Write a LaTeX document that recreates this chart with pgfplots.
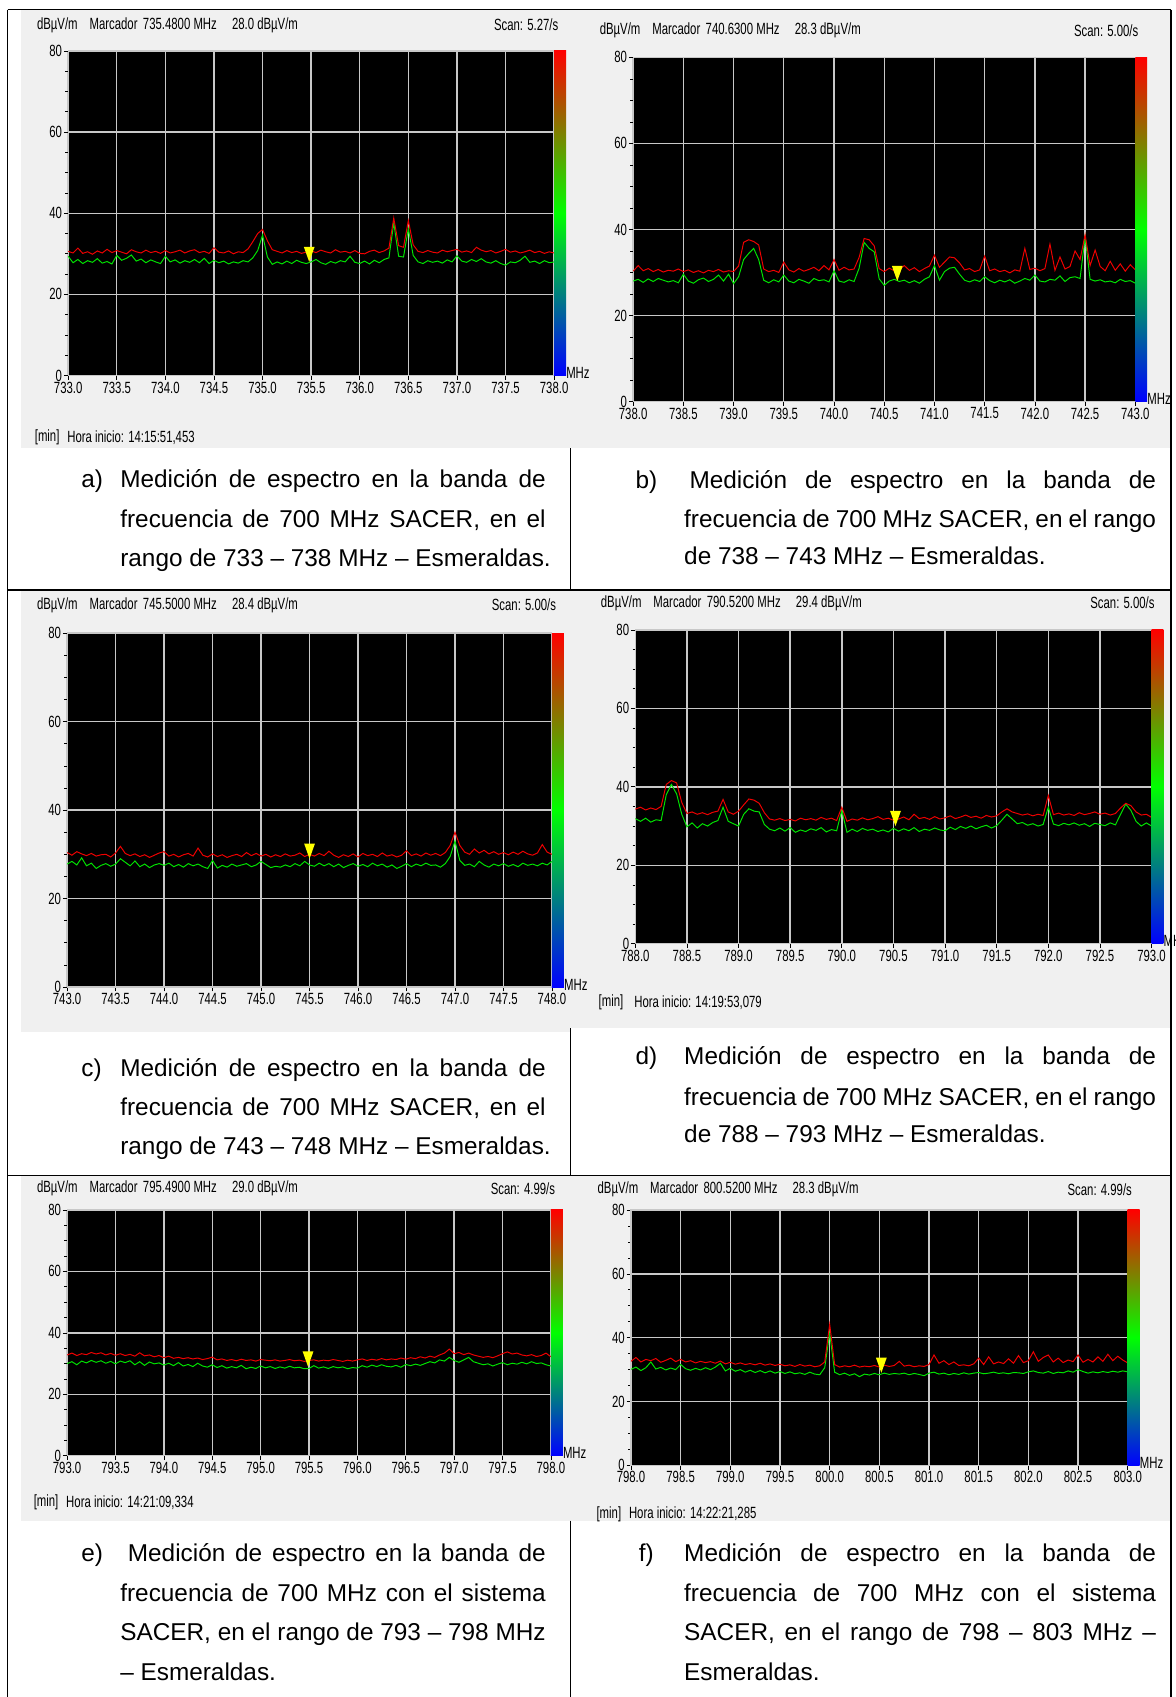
\documentclass[border=0pt]{standalone}
\usepackage{pgfplots}
\pgfplotsset{compat=1.18}
\usepackage{pgfplotstable}
\usepackage{fontspec}
\setmainfont{Liberation Sans}
\newfontfamily\narrow[FakeStretch=0.7]{Liberation Sans}
\newcommand\lbl{\narrow\fontsize{15}{17}\selectfont}
\newcommand\capfont{\fontsize{22.5}{26}\selectfont}

\definecolor{bgpanel}{HTML}{F0F0F0}
\definecolor{gridc}{HTML}{C8C8C8}
\definecolor{tr}{HTML}{F00000}
\definecolor{tg}{HTML}{00E400}
\definecolor{mk}{HTML}{FFFF00}

\pgfdeclareplotmark{ytri}{%
 \pgfpathmoveto{\pgfpoint{0pt}{0pt}}%
 \pgfpathlineto{\pgfpoint{-5pt}{14pt}}%
 \pgfpathlineto{\pgfpoint{5pt}{14pt}}%
 \pgfpathclose\pgfusepathqfill}

\pgfplotsset{
 spec/.style={
  scale only axis, anchor=north west, clip=true,
  axis background/.style={fill=black},
  ymin=0, ymax=80, ytick={0,20,40,60,80}, minor y tick num=3,
  xmajorgrids, ymajorgrids,
  major grid style={gridc, line width=1.3pt},
  axis line style={gridc, line width=1pt},
  xtick pos=bottom, ytick pos=left,
  tick align=outside, tick style={black, line width=0.6pt},
  major tick length=4pt, minor tick length=2.5pt,
  /pgf/number format/assume math mode=true,
  xticklabel={\pgfmathprintnumber[fixed,fixed zerofill,precision=1,1000 sep={}]{\tick}},
  xticklabel style={font=\lbl, inner sep=1.5pt},
  yticklabel style={font=\lbl, inner sep=1.5pt},
  every axis plot/.append style={line width=0.9pt},
 },
}

% ---------------- data (x in MHz, r = max hold, g = actual) ----------------
\pgfplotstableread{
x r g
733.00 30.6 29.4
733.05 30.2 27.8
733.10 31.4 28.6
733.15 30.1 27.6
733.20 30.5 28.3
733.25 29.9 27.9
733.30 30.7 28.8
733.35 30.2 27.7
733.40 31.1 28.1
733.45 30.3 27.5
733.50 30.8 29.6
733.55 30.4 28.4
733.60 30.0 28.9
733.65 31.0 29.7
733.70 30.5 28.2
733.75 30.2 28.7
733.80 30.9 27.8
733.85 30.3 28.5
733.90 30.6 28.0
733.95 30.1 27.6
734.00 30.8 29.4
734.05 30.2 28.0
734.10 30.5 28.5
734.15 30.9 27.7
734.20 30.2 28.3
734.25 30.7 27.9
734.30 31.0 28.6
734.35 30.3 27.8
734.40 30.6 28.9
734.45 30.1 27.6
734.50 31.5 28.4
734.55 30.4 27.8
734.60 30.2 28.2
734.65 30.7 27.5
734.70 30.0 28.0
734.75 30.5 27.7
734.80 30.3 28.3
734.85 31.2 28.0
734.90 33.0 29.0
734.95 35.0 30.8
735.00 36.0 34.6
735.05 33.2 29.2
735.10 31.0 27.4
735.15 30.6 28.0
735.20 30.2 27.5
735.25 30.8 28.2
735.30 30.3 27.6
735.35 30.6 28.4
735.40 30.1 27.9
735.45 30.4 27.6
735.50 30.7 28.0
735.55 30.3 28.6
735.60 30.9 27.8
735.65 30.5 27.4
735.70 30.2 28.1
735.75 31.0 27.7
735.80 30.4 28.3
735.85 30.6 28.0
735.90 30.2 29.4
735.95 30.8 27.9
736.00 30.1 27.6
736.05 30.0 28.2
736.10 30.6 27.5
736.15 30.9 28.4
736.20 30.3 27.8
736.25 30.7 28.6
736.30 31.4 29.0
736.35 38.8 37.6
736.40 32.0 29.4
736.45 31.6 29.2
736.50 38.2 36.2
736.55 32.2 29.6
736.60 30.6 28.0
736.65 30.3 27.6
736.70 30.8 28.3
736.75 30.4 27.9
736.80 30.2 28.2
736.85 30.9 27.7
736.90 30.5 28.5
736.95 30.8 28.0
737.00 31.1 29.5
737.05 30.4 28.2
737.10 30.7 27.9
737.15 30.3 28.6
737.20 31.6 28.1
737.25 30.9 28.8
737.30 30.5 28.0
737.35 30.8 27.7
737.40 30.2 28.3
737.45 30.6 27.6
737.50 31.1 27.2
737.55 30.4 28.0
737.60 30.7 27.8
737.65 30.2 28.4
737.70 30.5 29.4
737.75 30.9 27.9
737.80 30.3 28.2
737.85 30.6 27.6
737.90 30.1 28.3
737.95 30.5 27.8
738.00 30.2 28.0
}\ta

\pgfplotstableread{
x r g
738.00 30.3 28.0
738.05 31.6 28.4
738.10 30.4 27.7
738.15 30.9 28.5
738.20 30.2 27.9
738.25 30.7 28.6
738.30 30.1 28.2
738.35 30.5 27.8
738.40 30.3 28.1
738.45 30.8 27.6
738.50 30.2 29.6
738.55 30.6 28.0
738.60 30.0 27.5
738.65 30.4 28.3
738.70 29.9 28.7
738.75 30.5 27.9
738.80 30.2 28.4
738.85 30.7 29.4
738.90 30.1 28.0
738.95 30.4 29.6
739.00 30.2 27.4
739.05 31.5 29.0
739.10 37.0 33.0
739.15 37.6 34.4
739.20 37.2 35.6
739.25 36.4 33.0
739.30 30.8 28.2
739.35 30.2 27.6
739.40 30.5 28.3
739.45 30.0 27.8
739.50 32.4 29.4
739.55 30.6 28.0
739.60 30.1 27.6
739.65 30.9 28.4
739.70 30.3 28.0
739.75 30.7 27.5
739.80 31.2 28.6
739.85 30.4 28.1
739.90 31.6 28.3
739.95 30.6 27.8
740.00 33.0 30.4
740.05 30.5 28.0
740.10 31.2 27.7
740.15 30.6 28.3
740.20 30.8 27.9
740.25 33.5 31.0
740.30 37.9 37.0
740.35 37.6 35.6
740.40 36.2 34.8
740.45 30.9 28.5
740.50 30.2 27.0
740.55 31.0 28.0
740.60 30.4 28.4
740.65 30.7 27.9
740.70 31.6 28.2
740.75 30.5 27.6
740.80 31.1 28.1
740.85 30.2 27.5
740.90 30.9 28.4
740.95 31.5 29.0
741.00 34.0 31.6
741.05 31.2 28.2
741.10 32.4 30.2
741.15 33.6 31.0
741.20 33.4 31.2
741.25 32.2 29.6
741.30 30.6 28.2
741.35 30.9 27.8
741.40 30.2 28.3
741.45 30.6 27.9
741.50 33.8 29.0
741.55 30.4 28.1
741.60 30.8 27.6
741.65 30.2 28.2
741.70 30.5 27.8
741.75 29.9 28.3
741.80 30.6 27.5
741.85 30.3 28.0
741.90 35.6 28.6
741.95 30.7 28.2
742.00 31.0 29.4
742.05 30.4 28.0
742.10 30.9 27.8
742.15 36.6 28.4
742.20 30.5 28.2
742.25 33.6 29.2
742.30 30.8 27.9
742.35 31.4 28.8
742.40 35.0 29.0
742.45 33.0 28.6
742.50 38.8 38.2
742.55 31.6 28.4
742.60 35.2 28.0
742.65 31.4 28.3
742.70 30.4 27.8
742.75 32.6 28.0
742.80 30.5 27.6
742.85 32.0 28.4
742.90 30.3 27.9
742.95 31.8 28.1
743.00 30.6 27.5
}\tb

\pgfplotstableread{
x r g
743.00 30.4 27.8
743.05 29.8 28.4
743.10 30.6 27.6
743.15 30.1 29.2
743.20 29.7 27.4
743.25 30.2 28.0
743.30 29.6 26.8
743.35 29.9 27.5
743.40 30.0 27.9
743.45 29.4 27.3
743.50 30.3 27.8
743.55 31.8 29.0
743.60 30.2 28.2
743.65 29.7 27.4
743.70 30.1 28.5
743.75 29.5 27.2
743.80 29.9 27.8
743.85 29.3 27.0
743.90 29.8 27.6
743.95 30.3 27.9
744.00 30.6 27.5
744.05 29.6 28.0
744.10 30.0 27.2
744.15 29.4 27.7
744.20 29.9 27.1
744.25 30.2 27.9
744.30 29.6 27.4
744.35 31.4 27.8
744.40 29.8 27.2
744.45 29.4 26.8
744.50 30.1 28.6
744.55 29.5 26.9
744.60 29.9 27.5
744.65 29.3 27.1
744.70 29.7 27.8
744.75 30.0 27.3
744.80 29.5 27.6
744.85 30.4 27.9
744.90 29.7 27.2
744.95 30.2 27.6
745.00 29.6 28.4
745.05 30.0 27.7
745.10 29.4 27.0
745.15 29.9 27.3
745.20 29.5 27.1
745.25 30.1 27.6
745.30 29.6 27.2
745.35 29.8 27.9
745.40 30.3 27.4
745.45 29.5 28.4
745.50 30.0 27.6
745.55 29.6 27.3
745.60 30.2 28.0
745.65 29.7 27.4
745.70 30.7 27.9
745.75 29.8 27.2
745.80 29.3 27.8
745.85 29.9 27.0
745.90 29.5 27.5
745.95 30.1 27.9
746.00 29.4 27.3
746.05 30.2 27.7
746.10 29.7 27.2
746.15 30.0 28.0
746.20 29.5 27.4
746.25 30.3 27.8
746.30 29.6 27.1
746.35 29.9 27.6
746.40 29.4 26.8
746.45 29.8 27.3
746.50 30.8 27.9
746.55 29.7 27.2
746.60 30.1 27.8
746.65 29.6 27.4
746.70 30.3 28.0
746.75 29.8 27.5
746.80 30.2 27.6
746.85 29.7 27.1
746.90 30.4 27.9
746.95 32.0 29.5
747.00 35.0 33.0
747.05 32.0 28.6
747.10 30.5 27.5
747.15 30.0 27.8
747.20 31.2 27.2
747.25 30.3 28.4
747.30 30.9 27.6
747.35 30.1 27.1
747.40 30.6 27.8
747.45 30.0 27.4
747.50 30.4 27.9
747.55 29.9 27.3
747.60 30.5 27.7
747.65 30.0 27.2
747.70 30.7 28.0
747.75 30.1 27.5
747.80 29.8 27.8
747.85 30.3 27.4
747.90 32.2 28.0
747.95 30.5 27.6
748.00 30.0 28.4
}\tc

\pgfplotstableread{
x r g
788.00 34.3 31.9
788.05 34.8 31.2
788.10 34.1 32.0
788.15 34.6 31.0
788.20 34.2 31.6
788.25 35.0 31.4
788.30 40.6 38.0
788.35 41.6 40.6
788.40 41.0 38.2
788.45 36.0 33.0
788.50 33.2 29.8
788.55 33.6 30.8
788.60 33.0 29.5
788.65 33.4 30.6
788.70 32.9 30.0
788.75 33.5 30.9
788.80 33.8 31.4
788.85 36.8 34.8
788.90 33.6 31.2
788.95 33.0 30.6
789.00 33.8 30.0
789.05 35.4 33.0
789.10 36.9 34.4
789.15 36.6 33.8
789.20 35.8 33.6
789.25 33.4 30.4
789.30 31.8 29.2
789.35 31.5 28.8
789.40 31.9 29.5
789.45 31.4 28.7
789.50 31.7 29.6
789.55 31.3 28.4
789.60 32.0 29.0
789.65 31.6 28.6
789.70 31.9 29.3
789.75 31.5 28.9
789.80 32.2 29.6
789.85 31.7 28.5
789.90 32.0 29.1
789.95 31.4 28.8
790.00 34.8 34.0
790.05 31.2 28.4
790.10 31.8 29.2
790.15 31.5 28.6
790.20 32.1 29.4
790.25 31.6 28.9
790.30 31.9 29.2
790.35 32.4 28.6
790.40 31.7 29.0
790.45 32.0 28.5
790.50 31.5 29.4
790.55 31.8 28.7
790.60 32.3 29.3
790.65 31.6 28.8
790.70 33.0 29.6
790.75 31.9 28.6
790.80 32.2 29.2
790.85 31.7 28.9
790.90 32.4 29.5
790.95 31.8 29.0
791.00 32.1 28.8
791.05 32.6 29.7
791.10 31.9 29.1
791.15 32.3 29.9
791.20 32.8 29.4
791.25 32.2 30.0
791.30 32.5 29.3
791.35 32.0 29.8
791.40 32.7 30.2
791.45 32.3 29.5
791.50 32.6 30.1
791.55 33.6 31.5
791.60 34.4 33.0
791.65 33.6 31.8
791.70 33.2 30.6
791.75 32.8 30.9
791.80 33.1 30.2
791.85 32.6 30.6
791.90 33.0 30.0
791.95 32.7 30.4
792.00 37.8 34.8
792.05 32.9 30.5
792.10 33.3 30.1
792.15 32.8 30.7
792.20 33.1 30.3
792.25 32.7 30.8
792.30 33.4 30.2
792.35 32.9 30.6
792.40 33.2 29.9
792.45 33.6 30.7
792.50 33.0 30.4
792.55 33.3 30.1
792.60 32.8 30.8
792.65 33.2 30.3
792.70 34.6 33.0
792.75 35.8 35.6
792.80 35.2 34.0
792.85 33.6 31.2
792.90 32.8 30.0
792.95 33.0 30.8
793.00 32.2 30.0
}\td

\pgfplotstableread{
x r g
793.00 32.8 30.0
793.05 33.4 30.6
793.10 32.6 29.6
793.15 33.2 30.8
793.20 32.9 30.2
793.25 33.6 31.0
793.30 33.1 30.4
793.35 33.5 30.9
793.40 32.8 30.1
793.45 33.3 30.7
793.50 32.7 29.9
793.55 33.2 30.8
793.60 32.6 30.3
793.65 33.0 30.9
793.70 32.4 29.6
793.75 33.5 30.6
793.80 32.5 29.4
793.85 32.8 30.5
793.90 32.2 29.9
793.95 32.6 30.2
794.00 31.9 29.5
794.05 32.4 30.1
794.10 31.7 29.3
794.15 32.0 30.3
794.20 31.6 29.2
794.25 31.9 29.7
794.30 31.5 29.0
794.35 31.8 30.1
794.40 31.3 29.2
794.45 31.6 28.8
794.50 32.1 29.6
794.55 31.2 28.7
794.60 31.5 29.3
794.65 31.0 28.5
794.70 31.3 29.0
794.75 30.9 28.6
794.80 31.4 29.4
794.85 31.0 28.3
794.90 31.2 28.8
794.95 30.8 28.4
795.00 31.3 29.2
795.05 31.1 28.6
795.10 30.9 29.0
795.15 31.2 28.4
795.20 30.8 28.9
795.25 31.0 28.5
795.30 31.3 29.1
795.35 30.9 28.6
795.40 31.1 28.8
795.45 30.7 28.3
795.50 31.0 28.4
795.55 31.2 29.3
795.60 30.8 28.5
795.65 31.1 28.9
795.70 30.9 28.4
795.75 31.3 29.0
795.80 31.0 28.6
795.85 30.7 28.9
795.90 31.1 28.3
795.95 30.8 28.7
796.00 31.2 28.5
796.05 31.5 29.3
796.10 31.0 28.8
796.15 31.4 29.5
796.20 31.1 29.0
796.25 31.6 29.6
796.30 31.2 29.1
796.35 31.5 28.9
796.40 31.3 29.4
796.45 31.8 28.8
796.50 31.4 29.7
796.55 31.9 29.3
796.60 31.6 29.8
796.65 32.2 29.4
796.70 31.8 30.0
796.75 32.4 30.6
796.80 32.0 30.2
796.85 32.8 31.2
796.90 33.4 30.8
796.95 34.7 32.0
797.00 33.2 31.0
797.05 33.6 30.4
797.10 32.9 31.2
797.15 33.4 32.0
797.20 32.8 30.6
797.25 32.4 30.1
797.30 32.0 29.6
797.35 32.3 29.9
797.40 31.9 29.2
797.45 32.5 29.8
797.50 33.2 30.3
797.55 33.8 29.6
797.60 33.1 30.1
797.65 33.4 29.8
797.70 32.8 30.4
797.75 32.5 29.9
797.80 32.9 30.6
797.85 32.3 30.0
797.90 32.6 30.2
797.95 33.4 29.6
798.00 32.2 29.2
}\te

\pgfplotstableread{
x r g
798.00 32.6 30.1
798.05 33.8 30.8
798.10 32.4 29.7
798.15 33.2 30.6
798.20 32.8 32.4
798.25 33.5 30.2
798.30 32.3 30.7
798.35 32.9 29.9
798.40 33.6 30.5
798.45 32.5 30.0
798.50 33.2 31.6
798.55 32.4 30.3
798.60 32.8 29.8
798.65 32.1 30.4
798.70 32.6 29.9
798.75 32.2 30.6
798.80 32.5 30.0
798.85 32.0 30.8
798.90 32.7 32.0
798.95 31.8 29.6
799.00 32.3 30.4
799.05 31.7 29.5
799.10 32.1 30.0
799.15 31.6 29.2
799.20 31.9 29.8
799.25 31.5 29.1
799.30 32.0 29.7
799.35 31.4 29.0
799.40 31.8 29.6
799.45 31.3 28.9
799.50 31.7 29.4
799.55 31.2 28.8
799.60 31.5 29.3
799.65 31.0 28.7
799.70 31.6 29.0
799.75 31.1 28.5
799.80 31.4 29.2
799.85 30.9 28.6
799.90 31.2 28.4
799.95 32.4 30.6
800.00 44.2 41.4
800.05 31.6 29.2
800.10 30.8 28.4
800.15 31.2 28.9
800.20 30.9 28.2
800.25 31.4 28.7
800.30 30.8 27.8
800.35 31.1 28.6
800.40 30.9 28.3
800.45 31.3 28.8
800.50 30.8 28.4
800.55 31.4 28.9
800.60 31.0 28.5
800.65 31.3 28.8
800.70 32.6 28.6
800.75 31.1 28.9
800.80 31.4 28.4
800.85 30.9 28.8
800.90 31.2 28.5
800.95 31.0 28.1
801.00 31.6 28.9
801.05 34.6 29.2
801.10 32.0 28.6
801.15 32.8 28.9
801.20 31.6 28.4
801.25 32.4 28.8
801.30 31.3 28.5
801.35 31.5 29.0
801.40 31.2 28.6
801.45 31.8 28.9
801.50 33.6 29.1
801.55 31.6 28.7
801.60 34.0 28.9
801.65 31.8 29.2
801.70 32.4 28.8
801.75 31.9 29.0
801.80 33.4 28.7
801.85 32.0 29.1
801.90 34.4 29.0
801.95 32.2 28.8
802.00 32.8 29.3
802.05 35.6 29.6
802.10 32.6 29.1
802.15 33.8 28.9
802.20 34.6 29.4
802.25 32.4 28.8
802.30 33.6 29.2
802.35 32.2 29.0
802.40 33.0 29.6
802.45 32.5 29.2
802.50 34.6 30.0
802.55 32.3 29.4
802.60 33.2 28.9
802.65 32.4 29.3
802.70 34.0 29.0
802.75 32.6 29.4
802.80 34.8 29.1
802.85 32.8 29.5
802.90 34.2 29.2
802.95 33.0 29.6
803.00 32.1 29.3
}\tf

% caption helpers
\newcommand\capline[4]{\node[anchor=base west, inner sep=0pt, font=\capfont] at (#1pt,-#2pt) {\makebox[#3pt][s]{#4}};}
\newcommand\caplast[3]{\node[anchor=base west, inner sep=0pt, font=\capfont] at (#1pt,-#2pt) {#3};}
\newcommand\hdr[4]{\node[anchor=west, inner sep=0pt, font=\lbl] at (#1pt,-#2pt) {dBµV/m\hspace{11pt}Marcador\hspace{5pt}#3 MHz\hspace{14pt}#4 dBµV/m};}
\newcommand\scan[3]{\node[anchor=east, inner sep=0pt, font=\lbl] at (#1pt,-#2pt) {Scan: #3/s};}
\newcommand\hora[4]{\node[anchor=west, inner sep=0pt, font=\lbl] at (#1pt,-#3pt) {[min]};
  \node[anchor=west, inner sep=0pt, font=\lbl] at (#2pt,-#3pt) {Hora inicio: #4};}
\newcommand\cbar[1]{\shade[top color=red, bottom color=blue, middle color=green] (#1.north east) rectangle ([xshift=11pt]#1.south east);
  \node[anchor=south west, inner sep=0pt, font=\lbl] at ([xshift=11pt,yshift=-3pt]#1.south east) {MHz};}

\begin{document}
\begin{tikzpicture}
\useasboundingbox (0pt,0pt) rectangle (1086pt,-1568pt);
\fill[white] (0pt,0pt) rectangle (1086pt,-1568pt);
% panel backgrounds
\fill[bgpanel] (19pt,-9pt) rectangle (1082pt,-414pt);
\fill[bgpanel] (19pt,-545pt) rectangle (527pt,-954pt);
\fill[bgpanel] (527pt,-545pt) rectangle (1082pt,-950pt);
\fill[bgpanel] (19pt,-1086pt) rectangle (1082pt,-1405pt);
% table rules
\begin{scope}[line width=1.4pt, black]
\draw (7pt,-9pt) -- (1082pt,-9pt);
\draw (7pt,-9pt) -- (7pt,-1568pt);
\draw (1082pt,-9pt) -- (1082pt,-1568pt);
\draw (7pt,-545pt) -- (1082pt,-545pt);
\draw (7pt,-1086pt) -- (1082pt,-1086pt);
\end{scope}
\begin{scope}[line width=0.9pt, black]
\draw (527pt,-414pt) -- (527pt,-545pt);
\draw (527pt,-950pt) -- (527pt,-1086pt);
\draw (527pt,-1405pt) -- (527pt,-1568pt);
\end{scope}

% ---------------- a ----------------
\begin{axis}[spec, name=pa, at={(63pt,-47pt)}, width=449pt, height=300pt,
  xmin=733, xmax=738, xtick={733,733.5,...,738}]
\addplot[tg] table[x=x,y=g] {\ta};
\addplot[tr] table[x=x,y=r] {\ta};
\addplot[mk, only marks, mark=ytri] coordinates {(735.48,28)};
\end{axis}
\cbar{pa}
\hdr{34}{23}{735.4800}{28.0}
\scan{516}{23}{5.27}
\hora{32}{62}{404}{14:15:51,453}

% ---------------- b ----------------
\begin{axis}[spec, name=pb, at={(585pt,-53pt)}, width=464pt, height=318pt,
  xmin=738, xmax=743, xtick={738,738.5,...,743}]
\addplot[tg] table[x=x,y=g] {\tb};
\addplot[tr] table[x=x,y=r] {\tb};
\addplot[mk, only marks, mark=ytri] coordinates {(740.63,28)};
\end{axis}
\cbar{pb}
\hdr{554}{28}{740.6300}{28.3}
\scan{1052}{28}{5.00}

% ---------------- c ----------------
\begin{axis}[spec, name=pc, at={(62pt,-585pt)}, width=448pt, height=327pt,
  xmin=743, xmax=748, xtick={743,743.5,...,748}]
\addplot[tg] table[x=x,y=g] {\tc};
\addplot[tr] table[x=x,y=r] {\tc};
\addplot[mk, only marks, mark=ytri] coordinates {(745.5,29)};
\end{axis}
\cbar{pc}
\hdr{34}{559}{745.5000}{28.4}
\scan{514}{559}{5.00}

% ---------------- d ----------------
\begin{axis}[spec, name=pd, at={(587pt,-582pt)}, width=477pt, height=290pt,
  xmin=788, xmax=793, xtick={788,788.5,...,793}]
\addplot[tg] table[x=x,y=g] {\td};
\addplot[tr] table[x=x,y=r] {\td};
\addplot[mk, only marks, mark=ytri] coordinates {(790.52,30)};
\end{axis}
\cbar{pd}
\hdr{555}{557}{790.5200}{29.4}
\scan{1067}{557}{5.00}
\hora{553}{586}{926}{14:19:53,079}

% ---------------- e ----------------
\begin{axis}[spec, name=pe, at={(62pt,-1118pt)}, width=447pt, height=227pt,
  xmin=793, xmax=798, xtick={793,793.5,...,798}]
\addplot[tg] table[x=x,y=g] {\te};
\addplot[tr] table[x=x,y=r] {\te};
\addplot[mk, only marks, mark=ytri] coordinates {(795.49,29)};
\end{axis}
\cbar{pe}
\hdr{34}{1098}{795.4900}{29.0}
\scan{513}{1098}{4.99}
\hora{31}{61}{1388}{14:21:09,334}

% ---------------- f ----------------
\begin{axis}[spec, name=pf, at={(583pt,-1118pt)}, width=459pt, height=236pt,
  xmin=798, xmax=803, xtick={798,798.5,...,803}]
\addplot[tg] table[x=x,y=g] {\tf};
\addplot[tr] table[x=x,y=r] {\tf};
\addplot[mk, only marks, mark=ytri] coordinates {(800.52,29)};
\end{axis}
\cbar{pf}
\hdr{552}{1099}{800.5200}{28.3}
\scan{1046}{1099}{4.99}
\hora{551}{581}{1399}{14:22:21,285}

% ---------------- captions ----------------
\caplast{75}{450}{a)}
\capline{111}{450}{393}{Medición de espectro en la banda de}
\capline{111}{487}{393}{frecuencia de 700 MHz SACER, en el}
\caplast{111}{523}{rango de 733 – 738 MHz – Esmeraldas.}

\caplast{587}{451}{b)}
\capline{637}{451}{431}{Medición de espectro en la banda de}
\capline{632}{487}{436}{frecuencia de 700 MHz SACER, en el rango}
\caplast{632}{522}{de 738 – 743 MHz – Esmeraldas.}

\caplast{75}{995}{c)}
\capline{111}{995}{393}{Medición de espectro en la banda de}
\capline{111}{1031}{393}{frecuencia de 700 MHz SACER, en el}
\caplast{111}{1067}{rango de 743 – 748 MHz – Esmeraldas.}

\caplast{587}{984}{d)}
\capline{632}{984}{436}{Medición de espectro en la banda de}
\capline{632}{1021}{436}{frecuencia de 700 MHz SACER, en el rango}
\caplast{632}{1056}{de 788 – 793 MHz – Esmeraldas.}

\caplast{75}{1443}{e)}
\capline{118}{1443}{386}{Medición de espectro en la banda de}
\capline{111}{1480}{393}{frecuencia de 700 MHz con el sistema}
\capline{111}{1516}{393}{SACER, en el rango de 793 – 798 MHz}
\caplast{111}{1553}{– Esmeraldas.}

\caplast{590}{1443}{f)}
\capline{632}{1443}{436}{Medición de espectro en la banda de}
\capline{632}{1480}{436}{frecuencia de 700 MHz con el sistema}
\capline{632}{1516}{436}{SACER, en el rango de 798 – 803 MHz –}
\caplast{632}{1553}{Esmeraldas.}
\end{tikzpicture}
\end{document}
